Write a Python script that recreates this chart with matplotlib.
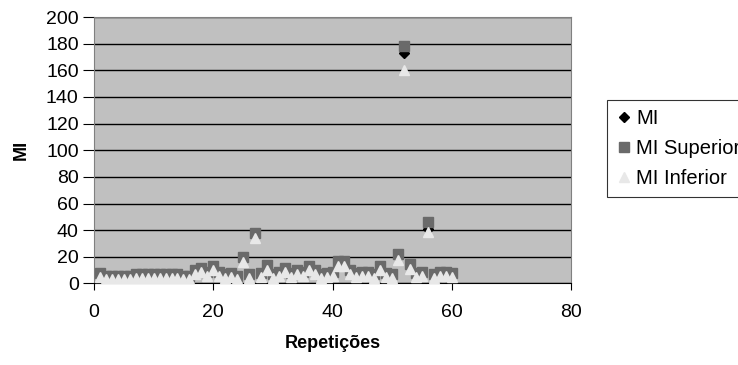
import matplotlib
matplotlib.use("Agg")
import matplotlib.pyplot as plt

plt.rcParams['font.family'] = ['Liberation Sans', 'DejaVu Sans']

# repetition index and the three MI series
rep = list(range(1, 61))
mi = [7, 5, 5, 5, 5, 5, 6, 6, 6, 6, 6, 6, 6, 6, 5, 5, 9, 11, 8, 11,
      8, 6, 7, 5, 18, 6, 36, 7, 12, 6, 8, 11, 7, 9, 8, 12, 9, 6, 7, 8,
      15, 15, 9, 7, 8, 8, 6, 12, 7, 6, 20, 173, 13, 7, 8, 41, 6, 8, 8, 7]
mi_sup = [8, 6, 6, 6, 6, 6, 7, 7, 7, 7, 7, 7, 7, 7, 6, 6, 10, 12, 9, 13,
          9, 7, 8, 6, 20, 7, 38, 8, 14, 7, 9, 12, 8, 10, 9, 13, 10, 7, 8, 9,
          17, 17, 10, 8, 9, 9, 7, 13, 8, 7, 22, 178, 15, 8, 9, 46, 7, 9, 9, 8]
mi_inf = [5, 3, 3, 3, 3, 3, 4, 4, 4, 4, 4, 4, 4, 4, 3, 3, 7, 9, 6, 10,
          6, 4, 5, 3, 16, 4, 34, 5, 10, 4, 6, 9, 5, 7, 6, 10, 7, 4, 5, 6,
          13, 13, 7, 5, 6, 6, 4, 10, 5, 4, 18, 160, 11, 5, 6, 39, 4, 6, 6, 5]

fig = plt.figure(figsize=(7.38, 3.65), dpi=100)
ax = fig.add_axes([0.1274, 0.2233, 0.6463, 0.730])
ax.set_facecolor('#C0C0C0')

ax.plot(rep, mi, linestyle='none', marker='D', ms=5, color='black', label='MI', zorder=3)
ax.plot(rep, mi_sup, linestyle='none', marker='s', ms=6.5, color='#6A6A6A', label='MI Superior', zorder=4)
ax.plot(rep, mi_inf, linestyle='none', marker='^', ms=7.5, color='#E8E8E8', label='MI Inferior', zorder=5)

ax.set_xlim(0, 80)
ax.set_ylim(0, 200)
ax.set_xticks(range(0, 81, 20))
ax.set_yticks(range(0, 201, 20))
ax.yaxis.grid(True, color='black', lw=1)
ax.set_axisbelow(True)
for s in ax.spines.values():
    s.set_color('#808080')
ax.spines['bottom'].set_color('black')
ax.tick_params(axis='y', direction='out', length=8, pad=3, labelsize=14, color='black')
ax.tick_params(axis='x', direction='out', length=5, pad=10, labelsize=14, color='black')

ax.set_xlabel('Repetições', fontsize=13, fontweight='bold', labelpad=10)
ax.set_ylabel('MI', fontsize=13, fontweight='bold', labelpad=12)

# legend sits partly past the right edge, as in the original
leg = fig.legend(loc='upper left', bbox_to_anchor=(0.8225, 0.726), borderaxespad=0,
                 fontsize=14.5, frameon=True, fancybox=False, edgecolor='black',
                 borderpad=0.45, handlelength=0.75, handletextpad=0.25, labelspacing=0.55)
leg.get_frame().set_linewidth(0.8)

fig.savefig('out.png', dpi=100)
